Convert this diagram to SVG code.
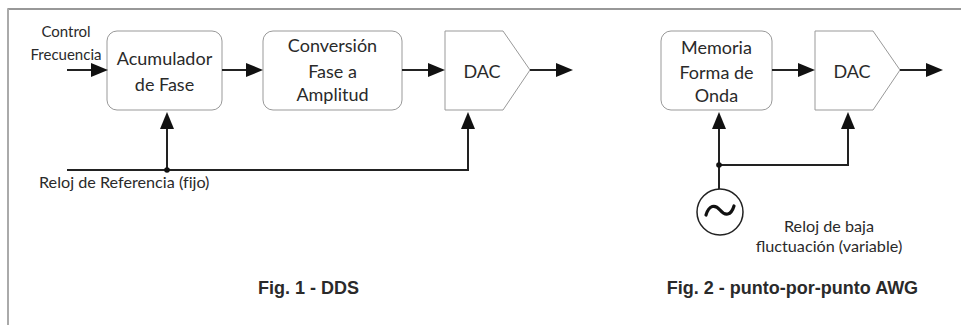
<svg xmlns="http://www.w3.org/2000/svg" width="961" height="325" viewBox="0 0 961 325">
<style>
.frame{fill:none;stroke:#777;stroke-width:1.3}
.box{fill:#fff;stroke:#999;stroke-width:1}
.t{font-family:Lato,"Open Sans",sans-serif;font-size:18px;fill:#2a2a2a;text-anchor:middle}
.s{font-family:Lato,"Open Sans",sans-serif;font-size:15px;fill:#2a2a2a}
.m{font-family:Lato,"Open Sans",sans-serif;font-size:16.2px;fill:#2a2a2a}
.cap{font-family:"Liberation Sans",Arial,sans-serif;font-size:18px;font-weight:bold;fill:#2a2a2a;text-anchor:middle}
.w{fill:none;stroke:#222;stroke-width:2}
</style>
<defs>
<marker id="ah" markerUnits="userSpaceOnUse" markerWidth="17" markerHeight="14" refX="13" refY="7" orient="auto">
<path d="M0,0 L17,7 L0,14 z" fill="#111"/>
</marker>
</defs>
<path class="frame" d="M961,9 H8 V325"/>
<path d="M8,9 V325" stroke="#aaa" stroke-width="2" fill="none"/>
<g id="acumulador">
<rect class="box" x="107" y="31" width="115" height="79" rx="10"/>
<text class="t" x="164.5" y="65">Acumulador</text>
<text class="t" x="164.5" y="91">de Fase</text>
</g>
<g id="conversion">
<rect class="box" x="263" y="31" width="139" height="79" rx="10"/>
<text class="t" x="332.5" y="52">Conversión</text>
<text class="t" x="332.5" y="78">Fase a</text>
<text class="t" x="332.5" y="101">Amplitud</text>
</g>
<g id="dac1">
<polygon class="box" points="445,31 503,31 530,70 503,110 445,110"/>
<text class="t" x="482" y="78">DAC</text>
</g>
<g id="memoria">
<rect class="box" x="661" y="31" width="111" height="79" rx="10"/>
<text class="t" x="716.5" y="54">Memoria</text>
<text class="t" x="716.5" y="79">Forma de</text>
<text class="t" x="716.5" y="102">Onda</text>
</g>
<g id="dac2">
<polygon class="box" points="815,31 873,31 900,70 873,110 815,110"/>
<text class="t" x="852" y="78">DAC</text>
</g>
<g id="oscilador">
<circle cx="720" cy="212" r="23" fill="#fff" stroke="#222" stroke-width="1.5"/>
<path d="M706,215 C709,205 715,204 720,210 C725,216 731,216 734,206" fill="none" stroke="#111" stroke-width="3.2" stroke-linecap="round"/>
</g>
<g id="labels">
<text class="s" x="66" y="37" text-anchor="middle">Control</text>
<text class="s" x="66" y="60" text-anchor="middle">Frecuencia</text>
<text class="m" x="39" y="188" font-size="16.8" style="font-variant-ligatures:none">Reloj de Referencia (fijo)</text>
<text class="m" x="829" y="232" text-anchor="middle">Reloj de baja</text>
<text class="m" x="829" y="252" text-anchor="middle">fluctuación (variable)</text>
<text class="cap" x="308.5" y="294">Fig. 1 - DDS</text>
<text class="cap" x="792.5" y="294" font-size="18.4">Fig. 2 - punto-por-punto AWG</text>
</g>
<g id="connectors">
<line class="w" x1="67" y1="70" x2="104" y2="70" marker-end="url(#ah)"/>
<line class="w" x1="222" y1="70" x2="259" y2="70" marker-end="url(#ah)"/>
<line class="w" x1="402" y1="70" x2="441" y2="70" marker-end="url(#ah)"/>
<line class="w" x1="530" y1="70" x2="569" y2="70" marker-end="url(#ah)"/>
<polyline class="w" points="67,170 468,170 468,116" marker-end="url(#ah)"/>
<line class="w" x1="167" y1="170" x2="167" y2="116" marker-end="url(#ah)"/>
<circle cx="167" cy="170" r="2.8" fill="#111"/>
<line class="w" x1="772" y1="70" x2="811" y2="70" marker-end="url(#ah)"/>
<line class="w" x1="900" y1="70" x2="939" y2="70" marker-end="url(#ah)"/>
<line class="w" x1="719" y1="189" x2="719" y2="116" marker-end="url(#ah)"/>
<polyline class="w" points="719,165 848,165 848,116" marker-end="url(#ah)"/>
<circle cx="719" cy="165" r="2.8" fill="#111"/>
</g>
</svg>
